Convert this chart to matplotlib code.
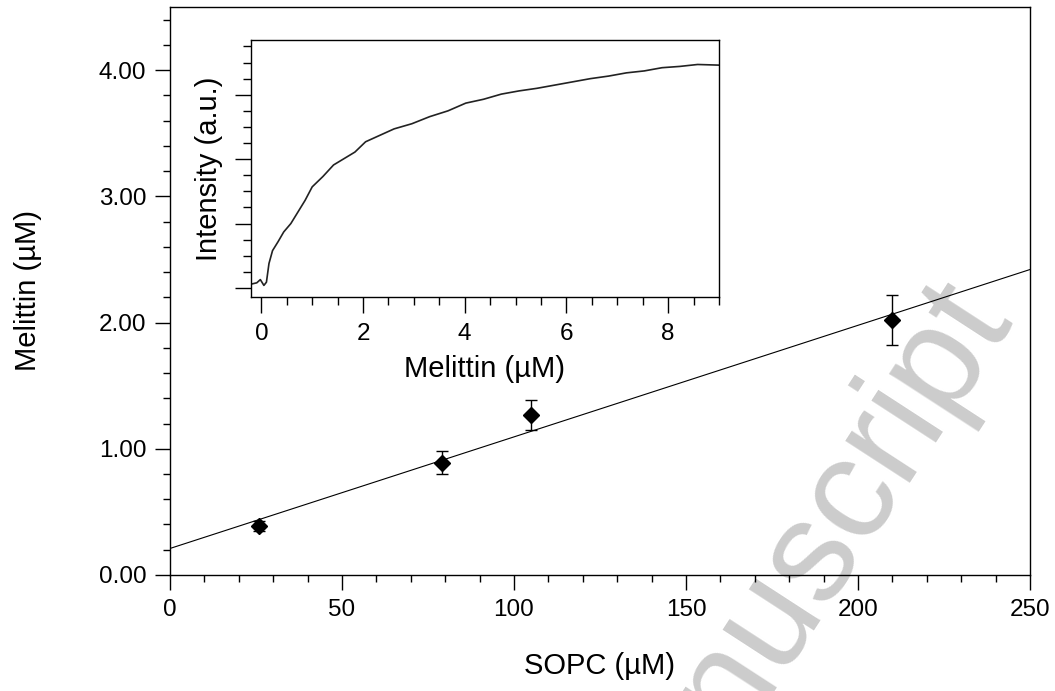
import numpy as np
import matplotlib
matplotlib.use("Agg")
import matplotlib.pyplot as plt
from matplotlib.ticker import MultipleLocator, FormatStrFormatter

plt.rcParams['font.family'] = ['Liberation Sans', 'DejaVu Sans']

# partition data: SOPC vs bound melittin
sopc = [26, 79, 105, 210]
melittin = [0.39, 0.89, 1.27, 2.02]
melittin_err = [0.04, 0.09, 0.12, 0.20]

# linear fit, end points
fit_x = [0, 250]
fit_y = [0.21, 2.42]

# titration trace (inset), intensity in arbitrary units
trace_x = [-0.20, -0.09, -0.02, 0.05, 0.10, 0.15, 0.22, 0.33, 0.44, 0.58,
           0.72, 0.86, 1.00, 1.21, 1.42, 1.63, 1.84, 2.05, 2.33, 2.61,
           2.96, 3.31, 3.67, 4.02, 4.37, 4.72, 5.07, 5.42, 5.77, 6.12,
           6.47, 6.83, 7.18, 7.53, 7.88, 8.23, 8.58, 9.00]
trace_y = [0.06, 0.08, 0.13, 0.04, 0.09, 0.38, 0.58, 0.72, 0.87, 1.00,
           1.18, 1.36, 1.57, 1.73, 1.91, 2.01, 2.11, 2.27, 2.37, 2.47,
           2.55, 2.66, 2.75, 2.87, 2.93, 3.01, 3.06, 3.10, 3.15, 3.20,
           3.25, 3.29, 3.34, 3.37, 3.42, 3.44, 3.47, 3.46]

W, H = 1055, 691
fig = plt.figure(figsize=(W / 100, H / 100), dpi=100)

# watermark behind everything
wx, wy = 1015, 322
fig.text(wx / W, 1 - wy / H, 'Accepted Manuscript', fontsize=104,
         color='#cccccc', rotation=57, rotation_mode='anchor',
         ha='right', va='baseline', zorder=-5)

ax = fig.add_axes([0.1611, 0.1679, 0.8152, 0.8220])
ax.patch.set_facecolor('none')

ax.plot(fit_x, fit_y, color='black', linewidth=0.8)
ax.errorbar(sopc, melittin, yerr=melittin_err, fmt='D', color='black',
            markersize=8, capsize=4.5, elinewidth=1, capthick=1)

ax.set_xlim(0, 250)
ax.set_ylim(0, 4.5)
ax.xaxis.set_major_locator(MultipleLocator(50))
ax.xaxis.set_minor_locator(MultipleLocator(10))
ax.yaxis.set_major_locator(MultipleLocator(1))
ax.yaxis.set_minor_locator(MultipleLocator(0.2))
ax.yaxis.set_major_formatter(FormatStrFormatter('%.2f'))
ax.tick_params(which='major', length=11, width=1, labelsize=17.5, pad=6)
ax.tick_params(which='minor', length=5, width=1)
for sp in ax.spines.values():
    sp.set_linewidth(1.0)

ax.set_xlabel('SOPC (µM)', fontsize=21)
ax.set_ylabel('Melittin (µM)', fontsize=21)
ax.xaxis.set_label_coords(0.5, -0.1356)
ax.yaxis.set_label_coords(-0.149, 0.5)

# inset with the fluorescence titration
ins = fig.add_axes([0.2376, 0.5702, 0.4439, 0.3719])
ins.plot(trace_x, trace_y, color='#222222', linewidth=1.2)
ins.set_xlim(-0.21, 9.0)
ins.set_ylim(-0.14, 3.85)
ins.xaxis.set_major_locator(MultipleLocator(2))
ins.xaxis.set_minor_locator(MultipleLocator(0.5))
ins.yaxis.set_major_locator(MultipleLocator(1))
ins.yaxis.set_minor_locator(MultipleLocator(0.25))
ins.tick_params(which='major', length=11.5, width=1, labelsize=17.5, pad=7)
ins.tick_params(which='minor', length=6, width=1)
ins.tick_params(axis='y', labelleft=False)
for sp in ins.spines.values():
    sp.set_linewidth(1.0)
ins.set_xlabel('Melittin (µM)', fontsize=21)
ins.set_ylabel('Intensity (a.u.)', fontsize=21)
ins.xaxis.set_label_coords(0.5, -0.226)
ins.yaxis.set_label_coords(-0.06, 0.5)

fig.savefig('out.png', dpi=100)
